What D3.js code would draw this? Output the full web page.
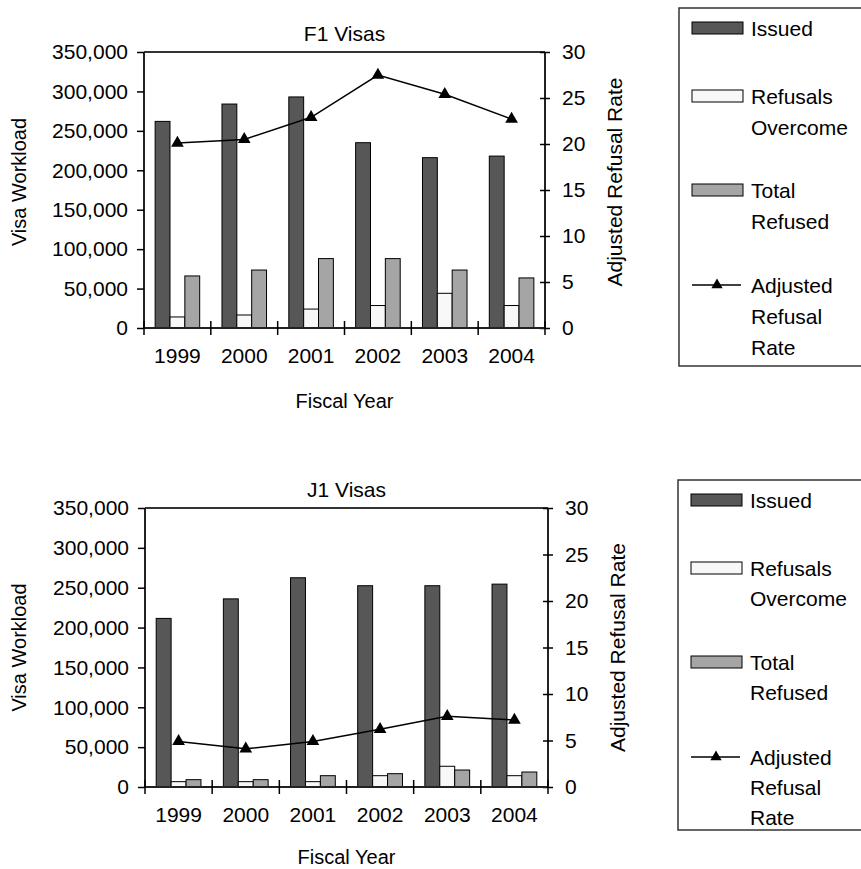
<!DOCTYPE html>
<meta charset="utf-8">
<script src="https://d3js.org/d3.v7.min.js"></script>
<style>
body { margin: 0; background: #fff; }
svg text { font-family: "Liberation Sans", Arial, sans-serif; fill: #000; }
</style>
<div id="chart"></div>
<script>
// data
var years = ["1999", "2000", "2001", "2002", "2003", "2004"];

var f1Issued   = [262000, 284000, 293000, 235000, 216000, 218000];
var f1Overcome = [14000, 16500, 24000, 28500, 44000, 28500];
var f1Refused  = [66000, 73500, 88000, 88000, 73500, 63500];
var f1Rate     = [20.1, 20.5, 22.9, 27.5, 25.4, 22.7];

var j1Issued   = [211500, 236000, 262500, 252500, 252500, 254500];
var j1Overcome = [6700, 6700, 6700, 14200, 26000, 14200];
var j1Refused  = [9200, 9200, 14200, 16700, 21300, 18800];
var j1Rate     = [4.9, 4.1, 4.9, 6.2, 7.6, 7.2];

var leftTicks  = [0, 50000, 100000, 150000, 200000, 250000, 300000, 350000];
var rightTicks = [0, 5, 10, 15, 20, 25, 30];

var seriesKeys = ["issued", "overcome", "refused"];
var fills = { issued: "#575757", overcome: "#f8f8f8", refused: "#a5a5a5" };
var legendLabels = [["Issued"], ["Refusals", "Overcome"], ["Total", "Refused"], ["Adjusted", "Refusal", "Rate"]];

var W = 861, H = 869;
var svg = d3.select("#chart").append("svg")
  .attr("width", W)
  .attr("height", H);

function drawPanel(p) {
  var x0 = d3.scaleBand().domain(years).range([p.left, p.right]).padding(0);
  var x1 = d3.scaleBand().domain(seriesKeys).range([0, x0.bandwidth()])
    .paddingInner(0).paddingOuter(0.75);
  var y = d3.scaleLinear().domain([0, 350000]).range([p.bottom, p.top]);
  var yr = d3.scaleLinear().domain([0, 30]).range([p.bottom, p.top]);

  var g = svg.append("g");

  // title
  g.append("text")
    .attr("x", (p.left + p.right) / 2)
    .attr("y", p.top - 11)
    .attr("text-anchor", "middle")
    .style("font-size", "21px")
    .text(p.title);

  // top frame line
  g.append("line")
    .attr("x1", p.left).attr("x2", p.right)
    .attr("y1", p.top).attr("y2", p.top)
    .attr("stroke", "#333").attr("stroke-width", 2);

  // bars
  var rows = years.map(function(yv, i) {
    return { year: yv, issued: p.issued[i], overcome: p.overcome[i], refused: p.refused[i] };
  });
  g.selectAll("g.grp")
    .data(rows)
    .enter().append("g")
    .attr("transform", function(d) { return "translate(" + x0(d.year) + ",0)"; })
    .selectAll("rect")
    .data(function(d) { return seriesKeys.map(function(k) { return { key: k, value: d[k] }; }); })
    .enter().append("rect")
      .attr("x", function(d) { return x1(d.key); })
      .attr("width", x1.bandwidth())
      .attr("y", function(d) { return y(d.value); })
      .attr("height", function(d) { return p.bottom - y(d.value); })
      .attr("fill", function(d) { return fills[d.key]; })
      .attr("stroke", "#000")
      .attr("stroke-width", 1);

  // left axis
  var la = g.append("g")
    .attr("transform", "translate(" + p.left + ",0)")
    .call(d3.axisLeft(y).tickValues(leftTicks).tickSize(7).tickPadding(9)
      .tickFormat(d3.format(",")));
  // right axis (ticks cross the line)
  var ra = g.append("g")
    .attr("transform", "translate(" + p.right + ",0)")
    .call(d3.axisRight(yr).tickValues(rightTicks).tickSize(5).tickPadding(12));
  ra.selectAll(".tick line").attr("x1", -5);
  // bottom axis (ticks cross the line at category edges)
  var ba = g.append("g")
    .attr("transform", "translate(0," + p.bottom + ")")
    .call(d3.axisBottom(x0).tickSize(0).tickPadding(20));
  ba.selectAll(".tick line").remove();
  var edges = years.map(function(d) { return x0(d); }).concat([p.right]);
  ba.selectAll("line.edge")
    .data(edges)
    .enter().append("line")
    .attr("x1", function(d) { return d; }).attr("x2", function(d) { return d; })
    .attr("y1", -7).attr("y2", 7)
    .attr("stroke", "#000").attr("stroke-width", 1.5);

  [la, ra, ba].forEach(function(a) {
    a.select(".domain").attr("stroke", "#222").attr("stroke-width", 2);
    a.selectAll(".tick line").attr("stroke", "#000").attr("stroke-width", 1.5);
    a.selectAll("text").style("font-size", "21px").attr("fill", "#000")
      .style("font-family", "'Liberation Sans', Arial, sans-serif");
  });
  ba.select(".domain").attr("d", "M" + p.left + ",0H" + p.right);
  la.select(".domain").attr("d", "M0," + p.bottom + "V" + p.top);
  ra.select(".domain").attr("d", "M0," + p.bottom + "V" + p.top);

  // rate line
  var pts = years.map(function(yv, i) { return [x0(yv) + x0.bandwidth() / 2, yr(p.rate[i])]; });
  g.append("path")
    .datum(pts)
    .attr("fill", "none")
    .attr("stroke", "#000")
    .attr("stroke-width", 1.5)
    .attr("d", d3.line());
  g.selectAll("path.tri")
    .data(pts)
    .enter().append("path")
    .attr("transform", function(d) { return "translate(" + d[0] + "," + d[1] + ")"; })
    .attr("d", d3.symbol(d3.symbolTriangle).size(70))
    .attr("fill", "#000");

  // axis titles
  var midY = (p.top + p.bottom) / 2 + p.labelShift;
  g.append("text")
    .attr("transform", "translate(26," + midY + ") rotate(-90)")
    .attr("text-anchor", "middle")
    .style("font-size", "20px")
    .text("Visa Workload");
  g.append("text")
    .attr("transform", "translate(" + (p.right + 77) + "," + midY + ") rotate(-90)")
    .attr("text-anchor", "middle")
    .style("font-size", "21px")
    .text("Adjusted Refusal Rate");
  g.append("text")
    .attr("x", (p.left + p.right) / 2)
    .attr("y", p.bottom + p.fyOffset)
    .attr("text-anchor", "middle")
    .style("font-size", "20px")
    .text("Fiscal Year");

  // legend
  var lg = g.append("g");
  lg.append("rect")
    .attr("x", p.legX).attr("y", p.legTop)
    .attr("width", W - p.legX + 10).attr("height", p.legBottom - p.legTop)
    .attr("fill", "none").attr("stroke", "#333").attr("stroke-width", 1.5);
  legendLabels.forEach(function(lines, i) {
    var cy = p.legTop + p.itemY[i];
    if (i < 3) {
      lg.append("rect")
        .attr("x", p.legX + 13).attr("y", cy - 6)
        .attr("width", 51).attr("height", 12)
        .attr("fill", fills[seriesKeys[i]])
        .attr("stroke", "#000").attr("stroke-width", 1);
    } else {
      lg.append("line")
        .attr("x1", p.legX + 13).attr("x2", p.legX + 62)
        .attr("y1", cy).attr("y2", cy)
        .attr("stroke", "#000").attr("stroke-width", 1.5);
      lg.append("path")
        .attr("transform", "translate(" + (p.legX + 38) + "," + cy + ")")
        .attr("d", d3.symbol(d3.symbolTriangle).size(55))
        .attr("fill", "#000");
    }
    lines.forEach(function(t, j) {
      lg.append("text")
        .attr("x", p.legX + 72)
        .attr("y", cy + j * p.lineH)
        .attr("dy", "0.36em")
        .style("font-size", "21px")
        .text(t);
    });
  });
}

drawPanel({
  title: "F1 Visas", left: 144, right: 545, top: 52, bottom: 328,
  issued: f1Issued, overcome: f1Overcome, refused: f1Refused, rate: f1Rate,
  labelShift: -8, fyOffset: 80,
  legX: 679, legTop: 8, legBottom: 366, itemY: [20, 88, 182, 277], lineH: 31
});
drawPanel({
  title: "J1 Visas", left: 145, right: 548, top: 508, bottom: 787,
  issued: j1Issued, overcome: j1Overcome, refused: j1Refused, rate: j1Rate,
  labelShift: 0, fyOffset: 77,
  legX: 678, legTop: 480, legBottom: 830, itemY: [20, 88, 182, 277], lineH: 30
});
</script>
